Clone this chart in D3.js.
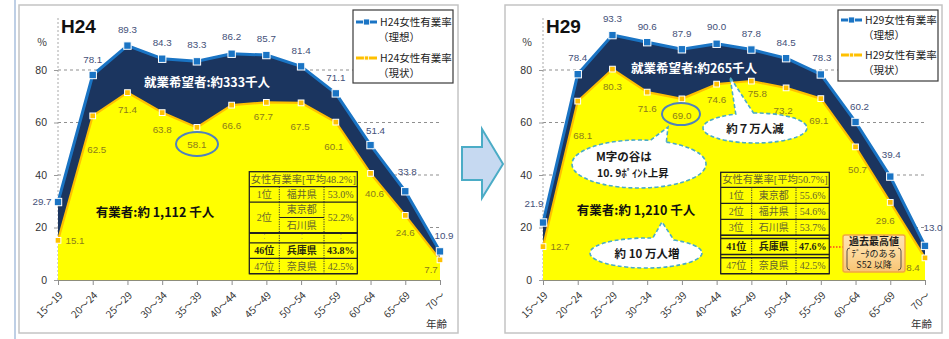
<!DOCTYPE html>
<html>
<head>
<meta charset="utf-8">
<script src="https://cdn.jsdelivr.net/npm/d3@7"></script>
<style>
  html, body { margin: 0; padding: 0; background: #fff; }
  svg { display: block; font-family: "Noto Sans CJK JP", "Liberation Sans", sans-serif; }
</style>
</head>
<body>
<svg id="chart" width="949" height="339"></svg>
<script>
// ---- data ----
const ageGroups = ["15～19", "20～24", "25～29", "30～34", "35～39", "40～44",
                   "45～49", "50～54", "55～59", "60～64", "65～69", "70～"];
const yTickValues = [0, 20, 40, 60, 80];

// 女性有業率 (%) : 理想 = 有業者 + 就業希望者, 現状 = 有業者
const idealH24  = [29.7, 78.1, 89.3, 84.3, 83.3, 86.2, 85.7, 81.4, 71.1, 51.4, 33.8, 10.9];
const actualH24 = [15.1, 62.5, 71.4, 63.8, 58.1, 66.6, 67.7, 67.5, 60.1, 40.6, 24.6, 7.7];
const idealH29  = [21.9, 78.4, 93.3, 90.6, 87.9, 90.0, 87.8, 84.5, 78.3, 60.2, 39.4, 13.0];
const actualH29 = [12.7, 68.1, 80.3, 71.6, 69.0, 74.6, 75.8, 73.2, 69.1, 50.7, 29.6, 8.4];

// 都道府県別 女性有業率
const rankHeaderH24 = "女性有業率[平均48.2%]";
const rankRowsH24 = [
  { rank: "1位",  prefs: ["福井県"], rate: "53.0%" },
  { rank: "2位",  prefs: ["東京都", "石川県"], rate: "52.2%" },
  { gap: "dots" },
  { rank: "46位", prefs: ["兵庫県"], rate: "43.8%", bold: true },
  { rank: "47位", prefs: ["奈良県"], rate: "42.5%" }
];
const rankHeaderH29 = "女性有業率[平均50.7%]";
const rankRowsH29 = [
  { rank: "1位",  prefs: ["東京都"], rate: "55.6%" },
  { rank: "2位",  prefs: ["福井県"], rate: "54.6%" },
  { rank: "3位",  prefs: ["石川県"], rate: "53.7%" },
  { gap: "double" },
  { rank: "41位", prefs: ["兵庫県"], rate: "47.6%", bold: true },
  { gap: "double" },
  { rank: "47位", prefs: ["奈良県"], rate: "42.5%" }
];

// ---- styles ----
const NAVY = "#1b355f", BLUE = "#1a74c4", YELLOW = "#ffff00", ORANGE = "#ffc000";
const IDEAL_LABEL = "#434f78", ACTUAL_LABEL = "#8a7c1c";
const TABLE_TEXT = "#66652c";
const BUBBLE_STROKE = "#4bacc6";

const svg = d3.select("#chart");

// slide edge and the arrow between the two panels
svg.append("line").attr("x1", 15).attr("x2", 15).attr("y1", 0).attr("y2", 339)
  .attr("stroke", "#a9bfdc").attr("stroke-width", 1.5);
svg.append("polygon")
  .attr("points", "462,147 482,147 482,129 503,164 482,198 482,180 462,180")
  .attr("fill", "#c6d9f1").attr("stroke", "#4bacc6").attr("stroke-width", 2)
  .attr("stroke-linejoin", "miter");

function drawPanel(cfg) {
  const g = svg.append("g");
  g.append("rect").attr("x", cfg.frame[0]).attr("y", cfg.frame[1])
    .attr("width", cfg.frame[2]).attr("height", cfg.frame[3])
    .attr("fill", "#fff").attr("stroke", "#c4c4c4").attr("stroke-width", 1.5);

  const x = d3.scalePoint().domain(ageGroups).range([cfg.x0, cfg.x1]);
  const y = d3.scaleLinear().domain([0, 100]).range([280, 17.5]);

  // gridlines and the dashed value axis
  g.append("g").selectAll("line").data(yTickValues.filter(v => v > 0)).join("line")
    .attr("x1", cfg.x0).attr("x2", cfg.x1)
    .attr("y1", d => y(d)).attr("y2", d => y(d))
    .attr("stroke", "#8f8f8f").attr("stroke-width", 1).attr("stroke-dasharray", "3,3");
  g.append("line").attr("x1", cfg.x0).attr("x2", cfg.x0).attr("y1", y(0)).attr("y2", y(100))
    .attr("stroke", "#a8a8a8").attr("stroke-width", 1).attr("stroke-dasharray", "2,2");

  const pts = (vals) => vals.map((v, i) => [x(ageGroups[i]), y(v)]);
  const area = d3.area().x(d => d[0]).y0(y(0)).y1(d => d[1]);
  const line = d3.line().x(d => d[0]).y(d => d[1]);
  const idealPts = pts(cfg.ideal), actualPts = pts(cfg.actual);

  g.append("path").attr("d", area(idealPts)).attr("fill", NAVY);
  g.append("path").attr("d", area(actualPts)).attr("fill", YELLOW);
  g.append("path").attr("d", line(idealPts)).attr("fill", "none")
    .attr("stroke", BLUE).attr("stroke-width", 3).attr("stroke-linejoin", "round");
  g.append("path").attr("d", line(actualPts)).attr("fill", "none")
    .attr("stroke", ORANGE).attr("stroke-width", 2.2).attr("stroke-linejoin", "round");

  // markers
  g.append("g").selectAll("rect").data(idealPts).join("rect")
    .attr("x", d => d[0] - 3.7).attr("y", d => d[1] - 3.7)
    .attr("width", 7.4).attr("height", 7.4)
    .attr("fill", BLUE).attr("stroke", "#fff").attr("stroke-width", 1);
  const diamond = d3.symbol().type(d3.symbolDiamond2).size(42);
  g.append("g").selectAll("path").data(actualPts).join("path")
    .attr("d", diamond).attr("transform", d => `translate(${d[0]},${d[1]}) rotate(45)`)
    .attr("fill", ORANGE).attr("stroke", "#fff").attr("stroke-width", 1);

  // category axis
  const xa = g.append("g").attr("transform", `translate(0,${y(0)})`)
    .call(d3.axisBottom(x).tickSize(5).tickSizeOuter(0));
  xa.select(".domain").attr("stroke", "#8d8d7a").attr("stroke-width", 1.2);
  xa.selectAll(".tick line").attr("stroke", "#8d8d8d");
  xa.selectAll(".tick text")
    .attr("x", 0).attr("y", 0).attr("dy", 0)
    .attr("text-anchor", "end")
    .attr("transform", "translate(5,16) rotate(-45)")
    .attr("fill", "#333").attr("font-size", 10)
    .attr("font-family", "'Noto Sans CJK JP', sans-serif");
  g.append("text").attr("x", cfg.x1 + 7).attr("y", 328).attr("text-anchor", "end")
    .attr("font-size", 10.5).attr("fill", "#333").text("年齢");

  // value axis labels
  const ya = g.append("g").attr("transform", `translate(${cfg.x0},0)`)
    .call(d3.axisLeft(y).tickValues(yTickValues).tickSize(4).tickPadding(7));
  ya.select(".domain").remove();
  ya.selectAll(".tick line").attr("stroke", "#9a9a9a");
  ya.selectAll(".tick text").attr("fill", "#333").attr("font-size", 10.5)
    .attr("font-family", "'Liberation Sans', sans-serif");
  g.append("text").attr("x", cfg.x0 - 16).attr("y", 46).attr("text-anchor", "middle")
    .attr("font-size", 10.5).attr("fill", "#333").text("%");

  // title
  g.append("text").attr("x", cfg.x0 + 3).attr("y", 33)
    .attr("font-family", "'Liberation Sans', sans-serif")
    .attr("font-weight", "bold").attr("font-size", 19).attr("fill", "#111")
    .text(cfg.title);

  // data labels
  const labelFont = "'Liberation Sans', sans-serif";
  g.append("g").selectAll("text").data(cfg.ideal).join("text")
    .attr("x", (d, i) => idealPts[i][0] + cfg.idealShift[i][0])
    .attr("y", (d, i) => idealPts[i][1] + cfg.idealShift[i][1])
    .attr("dy", "0.35em").attr("text-anchor", "middle")
    .attr("font-family", labelFont).attr("font-size", 9.8).attr("fill", IDEAL_LABEL)
    .text(d => d.toFixed(1));
  g.append("g").selectAll("text").data(cfg.actual).join("text")
    .attr("x", (d, i) => actualPts[i][0] + cfg.actualShift[i][0])
    .attr("y", (d, i) => actualPts[i][1] + cfg.actualShift[i][1])
    .attr("dy", "0.35em").attr("text-anchor", "middle")
    .attr("font-family", labelFont).attr("font-size", 9.8).attr("fill", ACTUAL_LABEL)
    .text(d => d.toFixed(1));

  // highlighted valley value
  g.append("ellipse").attr("cx", cfg.valley[0]).attr("cy", cfg.valley[1])
    .attr("rx", cfg.valley[2]).attr("ry", cfg.valley[3])
    .attr("fill", "none").attr("stroke", "#4f81bd").attr("stroke-width", 2);

  // headcount captions
  g.append("text").attr("x", cfg.hopeText[0]).attr("y", cfg.hopeText[1])
    .attr("text-anchor", "middle").attr("font-weight", "bold").attr("font-size", 12.5)
    .attr("fill", "#fff").text(cfg.hopeText[2]);
  g.append("text").attr("x", cfg.workText[0]).attr("y", cfg.workText[1])
    .attr("text-anchor", "middle").attr("font-weight", "bold").attr("font-size", 12.5)
    .attr("fill", "#111").text(cfg.workText[2]);

  drawTable(g, cfg.table);
  drawLegend(g, cfg.legend);
  return { x, y };
}

function drawTable(g, t) {
  const tg = g.append("g");
  const cols = [t.x, t.x + t.w[0], t.x + t.w[0] + t.w[1], t.x + t.w[0] + t.w[1] + t.w[2]];
  const serif = "'Liberation Serif', 'Noto Sans CJK JP', serif";
  const dark = "#222";
  let yy = t.y;
  const hline = (yv, w) => tg.append("line").attr("x1", cols[0]).attr("x2", cols[3])
    .attr("y1", yv).attr("y2", yv).attr("stroke", dark).attr("stroke-width", w);
  const vdots = (y1, y2) => [1, 2].forEach(c => tg.append("line")
    .attr("x1", cols[c]).attr("x2", cols[c]).attr("y1", y1).attr("y2", y2)
    .attr("stroke", "#333").attr("stroke-width", 1).attr("stroke-dasharray", "1.2,1.2"));
  const cellText = (cx, cy, s, bold) => tg.append("text").attr("x", cx).attr("y", cy)
    .attr("dy", "0.36em").attr("text-anchor", "middle").attr("font-family", serif)
    .attr("font-size", 10).attr("font-weight", bold ? "bold" : "normal")
    .attr("fill", bold ? "#2a2a10" : TABLE_TEXT).text(s);

  // header
  tg.append("text").attr("x", (cols[0] + cols[3]) / 2).attr("y", yy + t.headH / 2)
    .attr("dy", "0.36em").attr("text-anchor", "middle").attr("font-family", serif)
    .attr("font-size", 10).attr("fill", TABLE_TEXT)
    .attr("textLength", cols[3] - cols[0] - 3).attr("lengthAdjust", "spacingAndGlyphs")
    .text(t.header);
  yy += t.headH;
  hline(yy, 1.2);

  t.rows.forEach(r => {
    if (r.gap === "dots") {
      const top = yy;
      yy += t.dotH;
      vdots(top, yy);
      [0, 1, 2].forEach(c => cellText((cols[c] + cols[c + 1]) / 2, (top + yy) / 2 - 1, "：", false)
        .attr("font-size", 7).attr("fill", "#b9b060"));
      hline(top, 2);
      hline(yy, 1.4);
      return;
    }
    if (r.gap === "double") {
      hline(yy, 1.4);
      yy += t.sepH;
      hline(yy, 1.4);
      return;
    }
    const top = yy;
    const h = t.rowH * r.prefs.length;
    yy += h;
    vdots(top, yy);
    cellText((cols[0] + cols[1]) / 2, top + h / 2, r.rank, r.bold);
    r.prefs.forEach((p, k) => {
      cellText((cols[1] + cols[2]) / 2, top + t.rowH * (k + 0.5), p, r.bold);
      if (k > 0) tg.append("line").attr("x1", cols[1]).attr("x2", cols[2])
        .attr("y1", top + t.rowH * k).attr("y2", top + t.rowH * k)
        .attr("stroke", dark).attr("stroke-width", 1);
    });
    cellText((cols[2] + cols[3]) / 2, top + h / 2, r.rate, r.bold);
    hline(yy, 1.2);
  });
  tg.append("rect").attr("x", cols[0]).attr("y", t.y).attr("width", cols[3] - cols[0])
    .attr("height", yy - t.y).attr("fill", "none").attr("stroke", dark).attr("stroke-width", 1.3);
  return yy;
}

function drawLegend(g, L) {
  const lg = g.append("g");
  lg.append("rect").attr("x", L.x).attr("y", L.y).attr("width", L.w).attr("height", L.h)
    .attr("fill", "#fff").attr("stroke", "#3a3a3a").attr("stroke-width", 1.2);
  const items = [
    { c: BLUE, marker: "square", label: L.series + "女性有業率", sub: "（理想）", ly: L.rows[0] },
    { c: ORANGE, marker: "diamond", label: L.series + "女性有業率", sub: "（現状）", ly: L.rows[1] }
  ];
  items.forEach(it => {
    const lx = L.x + 3;
    lg.append("line").attr("x1", lx).attr("x2", lx + 21).attr("y1", it.ly).attr("y2", it.ly)
      .attr("stroke", it.c).attr("stroke-width", 3);
    if (it.marker === "square") {
      lg.append("rect").attr("x", lx + 7.5).attr("y", it.ly - 3).attr("width", 6).attr("height", 6)
        .attr("fill", it.c).attr("stroke", "#fff").attr("stroke-width", 0.8);
    } else {
      lg.append("path").attr("d", d3.symbol().type(d3.symbolDiamond2).size(22))
        .attr("transform", `translate(${lx + 10.5},${it.ly}) rotate(45)`)
        .attr("fill", it.c).attr("stroke", "#fff").attr("stroke-width", 0.8);
    }
    lg.append("text").attr("x", lx + 24).attr("y", it.ly + 4).attr("font-size", 10.5)
      .attr("fill", "#222").text(it.label);
    lg.append("text").attr("x", lx + 22).attr("y", it.ly + 19).attr("font-size", 10.5)
      .attr("fill", "#222").text(it.sub);
  });
}

// speech bubble: ellipse with a pointer leaving between parameter angles t1..t2
function bubble(g, b) {
  const p = t => [b.cx + b.rx * Math.cos(t), b.cy + b.ry * Math.sin(t)];
  const p1 = p(b.t1), p2 = p(b.t2);
  const d = `M${p2[0]},${p2[1]} A${b.rx},${b.ry} 0 1 1 ${p1[0]},${p1[1]} L${b.tip[0]},${b.tip[1]} Z`;
  g.append("path").attr("d", d).attr("fill", "#fff")
    .attr("stroke", BUBBLE_STROKE).attr("stroke-width", 1.6).attr("stroke-dasharray", "4,2.5");
  b.lines.forEach(l => g.append("text").attr("x", l[0]).attr("y", l[1])
    .attr("text-anchor", l[3] || "middle").attr("font-size", l[4] || 11.5)
    .attr("font-weight", "bold").attr("fill", "#1a1a1a").text(l[2]));
}

// ---- H24 ----
drawPanel({
  title: "H24", frame: [19, 5, 439, 328], x0: 58, x1: 440,
  ideal: idealH24, actual: actualH24,
  idealShift: [[-16, 0], [0, -15], [0, -16], [0, -16], [0, -17], [0, -17],
               [0, -16], [0, -16], [0, -16], [5, -15], [2, -20], [4, -16]],
  actualShift: [[17, 0], [4, 34], [0, 17], [0, 17], [0, 17], [0, 20],
                [-3, 14], [-1, 24], [-2, 24], [4, 20], [0, 17], [-9, 10]],
  valley: [197, 144, 21, 12],
  hopeText: [207, 87, "就業希望者:約333千人"],
  workText: [155, 217, "有業者:約 1,112 千人"],
  table: { x: 249.3, y: 171.7, w: [30, 44.7, 33.3], headH: 15, rowH: 15.4, dotH: 10,
           sepH: 3.5, header: rankHeaderH24, rows: rankRowsH24 },
  legend: { x: 353, y: 10, w: 100, h: 73, series: "H24", rows: [22, 58] }
});

// ---- H29 ----
const right = drawPanel({
  title: "H29", frame: [505, 5, 437, 328], x0: 543, x1: 925,
  ideal: idealH29, actual: actualH29,
  idealShift: [[-9, -19], [0, -17], [0, -17], [0, -16], [0, -16], [0, -17],
               [0, -16], [0, -16], [1, -17], [4, -15], [1, -22], [8, -18]],
  actualShift: [[17, 0], [5, 34], [0, 17], [0, 17], [0, 17], [0, 15],
                [6, 13], [-3, 23], [-2, 22], [2, 23], [-5, 18], [-12, 10]],
  valley: [681, 114, 19, 11],
  hopeText: [694, 73, "就業希望者:約265千人"],
  workText: [636, 215, "有業者:約 1,210 千人"],
  table: { x: 720.7, y: 172.3, w: [31, 44.3, 33.3], headH: 15, rowH: 16, dotH: 10,
           sepH: 3.2, header: rankHeaderH29, rows: rankRowsH29 },
  legend: { x: 838, y: 10, w: 100, h: 71, series: "H29", rows: [20, 55] }
});

// H29 callouts
const notes = svg.append("g");
bubble(notes, { cx: 639, cy: 164, rx: 67, ry: 24, t1: -1.4, t2: -1.15, tip: [668, 127],
  lines: [[596, 161, "M字の谷は", "start", 11.5], [597, 177, "10. 9ﾎﾟｲﾝﾄ上昇", "start", 10.5]] });
bubble(notes, { cx: 755, cy: 128, rx: 52, ry: 15, t1: -1.95, t2: -1.6, tip: [730, 77],
  lines: [[755, 133, "約７万人減"]] });
bubble(notes, { cx: 646, cy: 253, rx: 56, ry: 15, t1: -1.45, t2: -1.05, tip: [662, 222],
  lines: [[647, 258, "約 10 万人増"]] });

// record-high note tied to the 41位 row
const defs = svg.append("defs");
const grad = defs.append("linearGradient").attr("id", "peach").attr("x1", 0).attr("y1", 0).attr("x2", 0).attr("y2", 1);
grad.append("stop").attr("offset", "0%").attr("stop-color", "#fde3b0");
grad.append("stop").attr("offset", "50%").attr("stop-color", "#fdd89a");
grad.append("stop").attr("offset", "100%").attr("stop-color", "#f8c472");
notes.append("line").attr("x1", 830).attr("x2", 843).attr("y1", 247).attr("y2", 247)
  .attr("stroke", "#ff4020").attr("stroke-width", 1.5).attr("stroke-dasharray", "1.5,1.5");
notes.append("rect").attr("x", 843).attr("y", 235).attr("width", 62).attr("height", 37)
  .attr("rx", 2).attr("fill", "url(#peach)").attr("stroke", "#f2a640").attr("stroke-width", 1.4);
notes.append("text").attr("x", 874).attr("y", 245).attr("text-anchor", "middle")
  .attr("font-size", 10).attr("font-weight", "bold").attr("fill", "#1a1a1a").text("過去最高値");
notes.append("text").attr("x", 874).attr("y", 256.5).attr("text-anchor", "middle")
  .attr("font-size", 9).attr("fill", "#1a1a1a").text("ﾃﾞｰﾀのある");
notes.append("text").attr("x", 874).attr("y", 268).attr("text-anchor", "middle")
  .attr("font-size", 9).attr("fill", "#1a1a1a").text("S52 以降");
notes.append("path").attr("d", "M850,248 Q847,248 847,251 L847,267 Q847,270 850,270")
  .attr("fill", "none").attr("stroke", "#333").attr("stroke-width", 0.8);
notes.append("path").attr("d", "M898,248 Q901,248 901,251 L901,267 Q901,270 898,270")
  .attr("fill", "none").attr("stroke", "#333").attr("stroke-width", 0.8);
</script>
</body>
</html>
